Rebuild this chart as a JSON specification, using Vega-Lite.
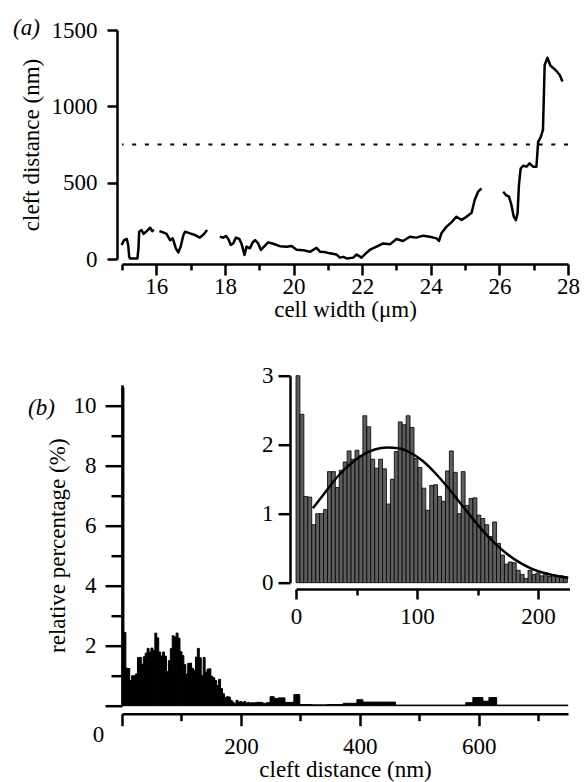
{
  "$schema": "https://vega.github.io/schema/vega-lite/v6.json",
  "background": "white",
  "padding": {"left": 13, "top": 17, "right": 5, "bottom": 2},
  "bounds": "flush",
  "spacing": 125.7,
  "config": {
    "view": {"stroke": null},
    "font": "Liberation Serif",
    "axis": {
      "grid": false,
      "domainColor": "#000",
      "domainWidth": 2.5,
      "tickColor": "#000",
      "tickWidth": 2.5,
      "labelColor": "#000",
      "labelFont": "Liberation Serif",
      "labelFontSize": 23,
      "titleFont": "Liberation Serif",
      "titleFontSize": 23,
      "titleFontWeight": "normal",
      "titleColor": "#000",
      "labelFlush": false,
      "labelOverlap": false
    },
    "title": {"font": "Liberation Serif", "fontSize": 23, "fontWeight": "normal", "color": "#000"}
  },
  "datasets": {
    "profile": [
      {"w": 14.99, "d": 92, "seg": "A"}, {"w": 15.06, "d": 124, "seg": "A"}, {"w": 15.14, "d": 131, "seg": "A"}, {"w": 15.18, "d": 92, "seg": "A"}, {"w": 15.21, "d": 15, "seg": "A"}, {"w": 15.23, "d": 4, "seg": "A"}, {"w": 15.45, "d": 4, "seg": "A"}, {"w": 15.48, "d": 70, "seg": "A"}, {"w": 15.5, "d": 179, "seg": "A"}, {"w": 15.57, "d": 190, "seg": "A"}, {"w": 15.63, "d": 164, "seg": "A"}, {"w": 15.72, "d": 183, "seg": "A"}, {"w": 15.82, "d": 205, "seg": "A"}, {"w": 15.88, "d": 183, "seg": "A"}, {"w": 15.93, "d": 192, "seg": "A"},
      {"w": 16.09, "d": 183, "seg": "B"}, {"w": 16.2, "d": 174, "seg": "B"}, {"w": 16.3, "d": 164, "seg": "B"}, {"w": 16.4, "d": 124, "seg": "B"}, {"w": 16.48, "d": 135, "seg": "B"}, {"w": 16.57, "d": 70, "seg": "B"}, {"w": 16.64, "d": 43, "seg": "B"}, {"w": 16.71, "d": 81, "seg": "B"}, {"w": 16.79, "d": 157, "seg": "B"}, {"w": 16.84, "d": 179, "seg": "B"}, {"w": 16.98, "d": 168, "seg": "B"}, {"w": 17.13, "d": 157, "seg": "B"}, {"w": 17.27, "d": 140, "seg": "B"}, {"w": 17.39, "d": 164, "seg": "B"}, {"w": 17.48, "d": 190, "seg": "B"},
      {"w": 17.85, "d": 146, "seg": "C"}, {"w": 17.95, "d": 140, "seg": "C"}, {"w": 18.03, "d": 151, "seg": "C"}, {"w": 18.1, "d": 131, "seg": "C"}, {"w": 18.17, "d": 92, "seg": "C"}, {"w": 18.24, "d": 102, "seg": "C"}, {"w": 18.32, "d": 140, "seg": "C"}, {"w": 18.42, "d": 131, "seg": "C"}, {"w": 18.49, "d": 96, "seg": "C"}, {"w": 18.57, "d": 26, "seg": "C"}, {"w": 18.63, "d": 81, "seg": "C"}, {"w": 18.73, "d": 70, "seg": "C"}, {"w": 18.81, "d": 109, "seg": "C"}, {"w": 18.88, "d": 124, "seg": "C"}, {"w": 18.97, "d": 102, "seg": "C"}, {"w": 19.05, "d": 59, "seg": "C"}, {"w": 19.14, "d": 81, "seg": "C"}, {"w": 19.26, "d": 109, "seg": "C"}, {"w": 19.41, "d": 100, "seg": "C"}, {"w": 19.6, "d": 84, "seg": "C"}, {"w": 19.8, "d": 80, "seg": "C"}, {"w": 19.94, "d": 85, "seg": "C"}, {"w": 20.09, "d": 60, "seg": "C"}, {"w": 20.28, "d": 58, "seg": "C"}, {"w": 20.48, "d": 47, "seg": "C"}, {"w": 20.67, "d": 74, "seg": "C"}, {"w": 20.77, "d": 48, "seg": "C"}, {"w": 20.9, "d": 46, "seg": "C"}, {"w": 21.06, "d": 37, "seg": "C"}, {"w": 21.25, "d": 30, "seg": "C"}, {"w": 21.35, "d": 9, "seg": "C"}, {"w": 21.45, "d": 14, "seg": "C"}, {"w": 21.55, "d": 4, "seg": "C"}, {"w": 21.74, "d": 9, "seg": "C"}, {"w": 21.84, "d": 30, "seg": "C"}, {"w": 21.98, "d": 9, "seg": "C"}, {"w": 22.1, "d": 35, "seg": "C"}, {"w": 22.22, "d": 59, "seg": "C"}, {"w": 22.42, "d": 81, "seg": "C"}, {"w": 22.61, "d": 102, "seg": "C"}, {"w": 22.81, "d": 96, "seg": "C"}, {"w": 23.0, "d": 131, "seg": "C"}, {"w": 23.19, "d": 118, "seg": "C"}, {"w": 23.39, "d": 146, "seg": "C"}, {"w": 23.58, "d": 140, "seg": "C"}, {"w": 23.78, "d": 153, "seg": "C"}, {"w": 23.97, "d": 146, "seg": "C"}, {"w": 24.17, "d": 135, "seg": "C"}, {"w": 24.24, "d": 118, "seg": "C"}, {"w": 24.31, "d": 168, "seg": "C"}, {"w": 24.46, "d": 212, "seg": "C"}, {"w": 24.6, "d": 240, "seg": "C"}, {"w": 24.75, "d": 277, "seg": "C"}, {"w": 24.9, "d": 255, "seg": "C"}, {"w": 25.04, "d": 277, "seg": "C"}, {"w": 25.19, "d": 303, "seg": "C"}, {"w": 25.28, "d": 386, "seg": "C"}, {"w": 25.38, "d": 441, "seg": "C"}, {"w": 25.48, "d": 462, "seg": "C"},
      {"w": 26.11, "d": 441, "seg": "D"}, {"w": 26.19, "d": 419, "seg": "D"}, {"w": 26.28, "d": 408, "seg": "D"}, {"w": 26.35, "d": 354, "seg": "D"}, {"w": 26.42, "d": 277, "seg": "D"}, {"w": 26.48, "d": 255, "seg": "D"}, {"w": 26.53, "d": 299, "seg": "D"}, {"w": 26.57, "d": 485, "seg": "D"}, {"w": 26.62, "d": 593, "seg": "D"}, {"w": 26.69, "d": 611, "seg": "D"}, {"w": 26.79, "d": 605, "seg": "D"}, {"w": 26.88, "d": 626, "seg": "D"}, {"w": 26.98, "d": 605, "seg": "D"}, {"w": 27.08, "d": 605, "seg": "D"}, {"w": 27.13, "d": 768, "seg": "D"}, {"w": 27.2, "d": 795, "seg": "D"}, {"w": 27.27, "d": 845, "seg": "D"}, {"w": 27.32, "d": 1271, "seg": "D"}, {"w": 27.4, "d": 1318, "seg": "D"}, {"w": 27.49, "d": 1266, "seg": "D"}, {"w": 27.56, "d": 1253, "seg": "D"}, {"w": 27.68, "d": 1227, "seg": "D"}, {"w": 27.76, "d": 1205, "seg": "D"}, {"w": 27.84, "d": 1162, "seg": "D"}
    ],
    "threshold": [{"level": 750}],
    "hist": [
      {"lo": 0, "hi": 3.25, "pct": 10.6}, {"lo": 3.25, "hi": 6.5, "pct": 2.44}, {"lo": 6.5, "hi": 9.75, "pct": 1.25}, {"lo": 9.75, "hi": 13, "pct": 1.24}, {"lo": 13, "hi": 16.25, "pct": 0.84}, {"lo": 16.25, "hi": 19.5, "pct": 1.0}, {"lo": 19.5, "hi": 22.75, "pct": 1.0}, {"lo": 22.75, "hi": 26, "pct": 1.06}, {"lo": 26, "hi": 29.25, "pct": 1.61}, {"lo": 29.25, "hi": 32.5, "pct": 1.61},
      {"lo": 32.5, "hi": 35.75, "pct": 1.38}, {"lo": 35.75, "hi": 39, "pct": 1.63}, {"lo": 39, "hi": 42.25, "pct": 1.75}, {"lo": 42.25, "hi": 45.5, "pct": 1.91}, {"lo": 45.5, "hi": 48.75, "pct": 1.79}, {"lo": 48.75, "hi": 52, "pct": 1.92}, {"lo": 52, "hi": 55.25, "pct": 1.84}, {"lo": 55.25, "hi": 58.5, "pct": 2.42}, {"lo": 58.5, "hi": 61.75, "pct": 2.26}, {"lo": 61.75, "hi": 65, "pct": 1.79},
      {"lo": 65, "hi": 68.25, "pct": 1.66}, {"lo": 68.25, "hi": 71.5, "pct": 1.79}, {"lo": 71.5, "hi": 74.75, "pct": 1.65}, {"lo": 74.75, "hi": 78, "pct": 1.14}, {"lo": 78, "hi": 81.25, "pct": 1.5}, {"lo": 81.25, "hi": 84.5, "pct": 1.9}, {"lo": 84.5, "hi": 87.75, "pct": 2.33}, {"lo": 87.75, "hi": 91, "pct": 2.29}, {"lo": 91, "hi": 94.25, "pct": 2.42}, {"lo": 94.25, "hi": 97.5, "pct": 2.25},
      {"lo": 97.5, "hi": 100.75, "pct": 1.8}, {"lo": 100.75, "hi": 104, "pct": 1.67}, {"lo": 104, "hi": 107.25, "pct": 1.37}, {"lo": 107.25, "hi": 110.5, "pct": 1.05}, {"lo": 110.5, "hi": 113.75, "pct": 1.41}, {"lo": 113.75, "hi": 117, "pct": 1.42}, {"lo": 117, "hi": 120.25, "pct": 1.25}, {"lo": 120.25, "hi": 123.5, "pct": 1.18}, {"lo": 123.5, "hi": 126.75, "pct": 1.62}, {"lo": 126.75, "hi": 130, "pct": 1.91},
      {"lo": 130, "hi": 133.25, "pct": 1.6}, {"lo": 133.25, "hi": 136.5, "pct": 1.0}, {"lo": 136.5, "hi": 139.75, "pct": 1.61}, {"lo": 139.75, "hi": 143, "pct": 1.12}, {"lo": 143, "hi": 146.25, "pct": 1.22}, {"lo": 146.25, "hi": 149.5, "pct": 1.23}, {"lo": 149.5, "hi": 152.75, "pct": 0.98}, {"lo": 152.75, "hi": 156, "pct": 0.93}, {"lo": 156, "hi": 159.25, "pct": 0.84}, {"lo": 159.25, "hi": 162.5, "pct": 0.67},
      {"lo": 162.5, "hi": 165.75, "pct": 0.88}, {"lo": 165.75, "hi": 169, "pct": 0.57}, {"lo": 169, "hi": 172.25, "pct": 0.4}, {"lo": 172.25, "hi": 175.5, "pct": 0.27}, {"lo": 175.5, "hi": 178.75, "pct": 0.3}, {"lo": 178.75, "hi": 182, "pct": 0.29}, {"lo": 182, "hi": 185.25, "pct": 0.18}, {"lo": 185.25, "hi": 188.5, "pct": 0.12}, {"lo": 188.5, "hi": 191.75, "pct": 0.06}, {"lo": 191.75, "hi": 195, "pct": 0.18},
      {"lo": 195, "hi": 198.25, "pct": 0.12}, {"lo": 198.25, "hi": 201.5, "pct": 0.14}, {"lo": 201.5, "hi": 204.75, "pct": 0.1}, {"lo": 204.75, "hi": 208, "pct": 0.14}, {"lo": 208, "hi": 211.25, "pct": 0.09}, {"lo": 211.25, "hi": 214.5, "pct": 0.11}, {"lo": 214.5, "hi": 217.75, "pct": 0.09}, {"lo": 217.75, "hi": 221, "pct": 0.1}, {"lo": 221, "hi": 224.25, "pct": 0.09},
      {"lo": 224.25, "hi": 237, "pct": 0.11}, {"lo": 237, "hi": 243, "pct": 0.08}, {"lo": 243, "hi": 249, "pct": 0.1}, {"lo": 249, "hi": 256, "pct": 0.3}, {"lo": 256, "hi": 263, "pct": 0.24}, {"lo": 263, "hi": 274, "pct": 0.26}, {"lo": 274, "hi": 289, "pct": 0.11}, {"lo": 289, "hi": 299, "pct": 0.37}, {"lo": 299, "hi": 320, "pct": 0.04}, {"lo": 320, "hi": 345, "pct": 0.03}, {"lo": 345, "hi": 372, "pct": 0.04}, {"lo": 372, "hi": 395, "pct": 0.08}, {"lo": 395, "hi": 405, "pct": 0.2}, {"lo": 405, "hi": 430, "pct": 0.12}, {"lo": 430, "hi": 460, "pct": 0.12}, {"lo": 460, "hi": 578, "pct": 0.02}, {"lo": 578, "hi": 590, "pct": 0.1}, {"lo": 590, "hi": 607, "pct": 0.27}, {"lo": 607, "hi": 617, "pct": 0.15}, {"lo": 617, "hi": 630, "pct": 0.27}, {"lo": 630, "hi": 750, "pct": 0.02}
    ],
    "fit": [
      {"x": 14, "y": 1.08}, {"x": 25, "y": 1.33}, {"x": 35, "y": 1.55}, {"x": 45, "y": 1.72}, {"x": 55, "y": 1.85}, {"x": 65, "y": 1.93}, {"x": 75, "y": 1.96}, {"x": 85, "y": 1.95}, {"x": 95, "y": 1.88}, {"x": 105, "y": 1.76}, {"x": 115, "y": 1.59}, {"x": 125, "y": 1.39}, {"x": 135, "y": 1.17}, {"x": 145, "y": 0.95}, {"x": 155, "y": 0.74}, {"x": 165, "y": 0.56}, {"x": 175, "y": 0.41}, {"x": 185, "y": 0.29}, {"x": 195, "y": 0.2}, {"x": 205, "y": 0.14}, {"x": 215, "y": 0.1}, {"x": 225, "y": 0.07}
    ]
  },
  "vconcat": [
    {
      "width": 446,
      "height": 229,
      "title": {"text": "(a)", "anchor": "start", "frame": "group", "orient": "top", "offset": 0, "dx": -109, "dy": 32, "baseline": "middle", "align": "left", "fontStyle": "italic"},
      "layer": [
        {
          "data": {"name": "profile"},
          "mark": {"type": "line", "color": "#000", "strokeWidth": 2.5, "strokeJoin": "round"},
          "encoding": {
            "x": {"field": "w", "type": "quantitative", "scale": {"domain": [15, 28], "nice": false, "zero": false},
              "axis": {"title": "cell width (μm)", "offset": 5, "values": [15, 16, 17, 18, 19, 20, 21, 22, 23, 24, 25, 26, 27, 28],
                "labelExpr": "datum.value % 2 == 0 ? datum.label : ''",
                "tickSize": {"condition": {"test": "datum.value % 2 == 0", "value": 11}, "value": 6},
                "labelPadding": 0, "titlePadding": 0}},
            "y": {"field": "d", "type": "quantitative", "scale": {"domain": [0, 1500], "nice": false},
              "axis": {"title": "cleft distance (nm)", "offset": 5, "values": [0, 250, 500, 750, 1000, 1250, 1500], "format": "d",
                "labelExpr": "datum.value % 500 == 0 ? datum.label : ''", "tickSize": 10, "labelPadding": 10, "titlePadding": 8}},
            "detail": {"field": "seg", "type": "nominal"}
          }
        },
        {
          "data": {"name": "threshold"},
          "mark": {"type": "rule", "color": "#000", "strokeWidth": 2, "strokeDash": [4, 8.7]},
          "encoding": {"y": {"field": "level", "type": "quantitative"}}
        }
      ]
    },
    {
      "width": 446,
      "height": 321,
      "title": {"text": "(b)", "anchor": "start", "frame": "group", "orient": "top", "offset": 0, "dx": -94, "dy": 66, "baseline": "middle", "align": "left", "fontStyle": "italic"},
      "resolve": {"scale": {"x": "independent", "y": "independent"}, "axis": {"x": "independent", "y": "independent"}},
      "layer": [
        {
          "data": {"name": "hist"},
          "mark": {"type": "rect", "color": "#000", "stroke": "#000", "strokeWidth": 1},
          "encoding": {
            "x": {"field": "lo", "type": "quantitative", "scale": {"domain": [0, 750], "nice": false, "zero": false},
              "axis": {"orient": "bottom", "title": "cleft distance (nm)", "offset": 8, "values": [0, 100, 200, 300, 400, 500, 600, 700],
                "labelExpr": "datum.value % 200 == 0 ? datum.label : ''",
                "tickSize": {"condition": {"test": "datum.value % 200 == 0", "value": 12}, "value": 7},
                "labelOffset": {"condition": {"test": "datum.value == 0", "value": -24}, "value": 0},
                "labelPadding": {"condition": {"test": "datum.value == 0", "value": -2}, "value": 10},
                "titlePadding": 0}},
            "x2": {"field": "hi"},
            "y": {"field": "pct", "type": "quantitative", "scale": {"domain": [0, 10.7], "nice": false},
              "axis": {"orient": "left", "title": "relative percentage (%)", "values": [0, 1, 2, 3, 4, 5, 6, 7, 8, 9, 10],
                "labelExpr": "datum.value % 2 == 0 && datum.value > 0 ? datum.label : ''",
                "tickSize": {"condition": {"test": "datum.value % 2 == 0", "value": 17}, "value": 11},
                "labelPadding": 9, "titlePadding": 4}},
            "y2": {"datum": 0}
          }
        },
        {
          "layer": [
            {
              "data": {"name": "hist"},
              "transform": [{"filter": "datum.hi < 225"}],
              "mark": {"type": "rect", "fill": "#5e5e5e", "stroke": "#000", "strokeWidth": 0.8},
              "encoding": {
                "x": {"field": "lo", "type": "quantitative", "scale": {"domain": [0, 226], "range": [174, 447.5], "nice": false, "zero": false},
                  "axis": {"orient": "bottom", "title": null, "offset": -116.7, "values": [0, 50, 100, 150, 200],
                    "labelExpr": "datum.value % 100 == 0 ? datum.label : ''",
                    "tickSize": {"condition": {"test": "datum.value % 100 == 0", "value": 10}, "value": 6},
                    "labelPadding": 6}},
                "x2": {"field": "hi"},
                "y": {"field": "pct", "type": "quantitative", "scale": {"domain": [0, 3], "range": [198, -9], "clamp": true, "nice": false},
                  "axis": {"orient": "left", "title": null, "offset": -168, "values": [0, 0.5, 1, 1.5, 2, 2.5, 3], "format": "d",
                    "labelExpr": "datum.value % 1 == 0 ? datum.label : ''",
                    "tickSize": {"condition": {"test": "datum.value % 1 == 0", "value": 12}, "value": 7},
                    "labelPadding": 5}},
                "y2": {"datum": 0}
              }
            },
            {
              "data": {"name": "fit"},
              "mark": {"type": "line", "color": "#000", "strokeWidth": 2.5, "interpolate": "monotone"},
              "encoding": {
                "x": {"field": "x", "type": "quantitative", "axis": {"title": null}},
                "y": {"field": "y", "type": "quantitative", "axis": {"title": null}}
              }
            }
          ]
        }
      ]
    }
  ]
}
